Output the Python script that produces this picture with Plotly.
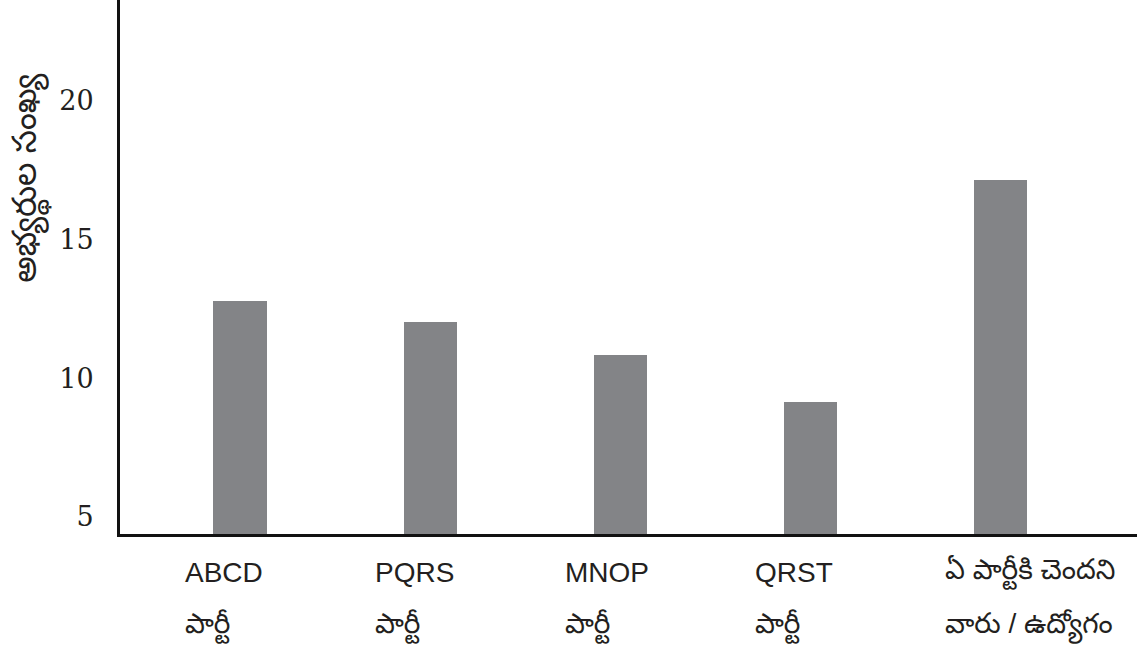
import plotly.graph_objects as go

cat_line1 = ["ABCD", "PQRS", "MNOP", "QRST", "ఏ పార్టీకి చెందని"]
cat_line2 = ["పార్టీ", "పార్టీ", "పార్టీ", "పార్టీ", "వారు / ఉద్యోగం"]
values = [12.77, 12.01, 10.83, 9.14, 17.12]
y_ticks = [5, 10, 15, 20]
y_title = "అభ్యర్థుల సంఖ్య"

x_idx = list(range(len(values)))

fig = go.Figure()
fig.add_trace(go.Bar(
    x=x_idx, y=values, width=0.28,
    marker=dict(color="#838487", line=dict(width=0)),
    hoverinfo="skip",
))

lab_font = dict(family="Liberation Sans, Noto Sans Telugu, sans-serif", size=28, color="#231f20")
for i, l1, l2 in zip(x_idx, cat_line1, cat_line2):
    fig.add_annotation(
        x=i, y=0, xref="x", yref="paper", yanchor="middle", xanchor="left",
        xshift=-57, yshift=-38, text=l1, showarrow=False, align="left", font=lab_font,
    )
    fig.add_annotation(
        x=i, y=0, xref="x", yref="paper", yanchor="middle", xanchor="left",
        xshift=-57, yshift=-92, text=l2, showarrow=False, align="left", font=lab_font,
    )

fig.add_annotation(
    x=0, y=0.667, xref="paper", yref="paper", xshift=-90, textangle=-90,
    xanchor="center", yanchor="middle",
    text=y_title, showarrow=False,
    font=dict(family="Noto Sans Telugu, Liberation Sans, sans-serif", size=33, color="#231f20"),
)

fig.update_layout(
    width=1139, height=651,
    margin=dict(l=120, r=2, t=0, b=117, autoexpand=False),
    paper_bgcolor="white", plot_bgcolor="white",
    showlegend=False,
    bargap=0,
    xaxis=dict(range=[-0.632, 4.72], showticklabels=False, ticks="", showgrid=False,
               zeroline=False, showline=True, linecolor="#111111", linewidth=3, automargin=False),
    yaxis=dict(range=[4.39, 23.6], tickvals=y_ticks, ticktext=[str(t) for t in y_ticks],
               showgrid=False, zeroline=False, showline=True, linecolor="#111111", linewidth=3,
               ticks="", ticklabelstandoff=18, automargin=False,
               tickfont=dict(family="DejaVu Serif", size=27, color="#231f20")),
)

fig.write_html("out.html", config={"displayModeBar": False},
               post_script="document.body.style.margin='0';document.body.style.overflow='hidden';")
